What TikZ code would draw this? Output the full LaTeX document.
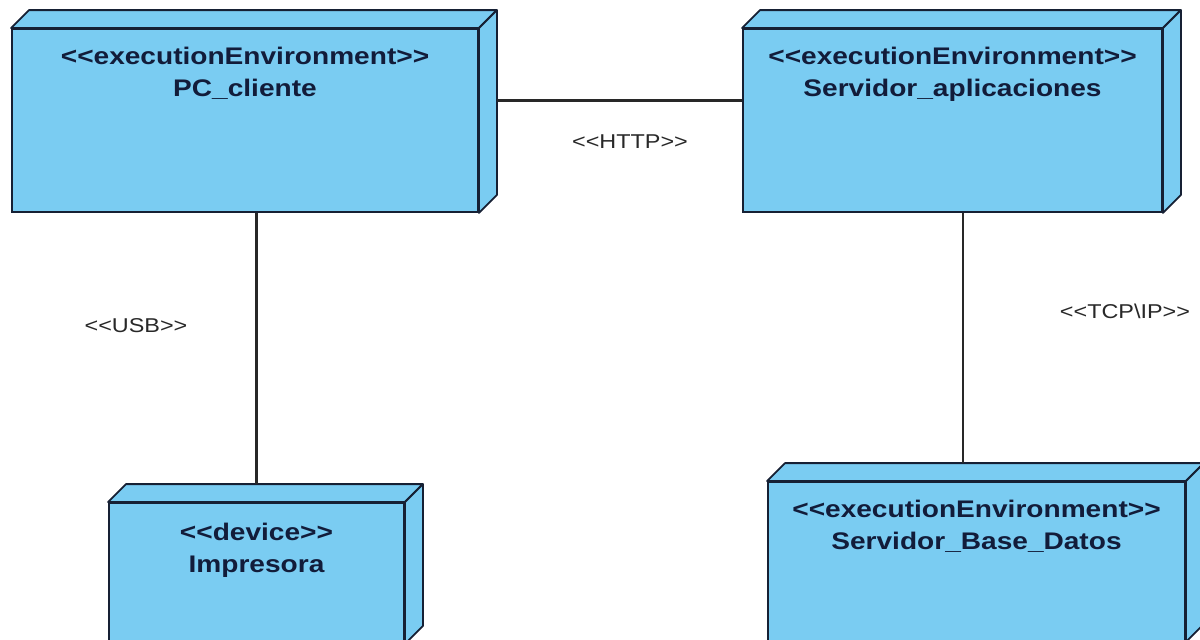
\documentclass[tikz,border=0pt]{standalone}
\usepackage{fontspec}
\newfontfamily\umlfont[FakeStretch=1.17]{Liberation Sans}
\usetikzlibrary{calc, positioning}
\definecolor{nodefill}{RGB}{122,204,242}
\definecolor{nodeline}{RGB}{22,32,52}
\definecolor{nodetext}{RGB}{18,28,58}
\definecolor{connline}{RGB}{40,40,40}

\begin{document}
\begin{tikzpicture}[x=1pt, y=-1pt,
    box/.style={draw=nodeline, fill=nodefill, line width=1.8pt, inner sep=0pt},
    face/.style={draw=nodeline, fill=nodefill, line width=1.8pt, line join=round},
    title/.style={font=\umlfont\bfseries\fontsize{24}{32}\selectfont, text=nodetext, align=center, inner sep=0pt},
    conn/.style={draw=connline, line width=2.2pt},
    connlabel/.style={font=\umlfont\fontsize{20}{24}\selectfont, text=connline, inner sep=0pt}]
        \useasboundingbox (0,0) rectangle (1200,640);
        \clip (0,0) rectangle (1200,640);
        \fill[white] (0,0) rectangle (1200,640);
        % front faces
        \node[box, minimum width=466pt, minimum height=183pt] (pc) at (245,120.5) {};
        \node[box, minimum width=419pt, minimum height=183pt] (srv) at (952.5,120.5) {};
        \node[box, minimum width=295pt, minimum height=140pt] (imp) at (256.5,573) {};
        \node[box, minimum width=417pt, minimum height=159pt] (bd) at (976.5,561.5) {};
        % top and side faces
        \foreach \n in {pc, srv, imp, bd}{
          \filldraw[face] (\n.north west) -- ++(18,-18) -- ($(\n.north east)+(18,-18)$) -- (\n.north east) -- cycle;
          \filldraw[face] (\n.north east) -- ++(18,-18) -- ($(\n.south east)+(18,-18)$) -- (\n.south east) -- cycle;
        }
        \node[title, below=19pt of pc.north] (pc-title) {<<executionEnvironment>>\\PC\_cliente};
        \node[title, below=19pt of srv.north] (srv-title) {<<executionEnvironment>>\\Servidor\_aplicaciones};
        \node[title, below=21pt of imp.north] (imp-title) {<<device>>\\Impresora};
        \node[title, below=19pt of bd.north] (bd-title) {<<executionEnvironment>>\\Servidor\_Base\_Datos};
        % connectors
        \coordinate (pcside) at ($(pc.east)+(18,-20)$);
        \coordinate (imptop) at ($(imp.north)+(0,-18)$);
        \coordinate (srvbot) at ($(srv.south)+(10.5,0)$);
        \coordinate (bdtop) at ($(bd.north)+(0,-18)$);
        \draw[conn] (pcside) -- (pcside -| srv.west);
        \draw[conn] (imptop) -- (imptop |- pc.south);
        \draw[conn] (srvbot) -- (srvbot |- bdtop);
        \node[connlabel] (http) at (630,142) {<<HTTP>>};
        \node[connlabel] (usb) at (136,326) {<<USB>>};
        \node[connlabel] (tcp) at (1125,311) {<<TCP\textbackslash IP>>};
      \end{tikzpicture}
\end{document}
